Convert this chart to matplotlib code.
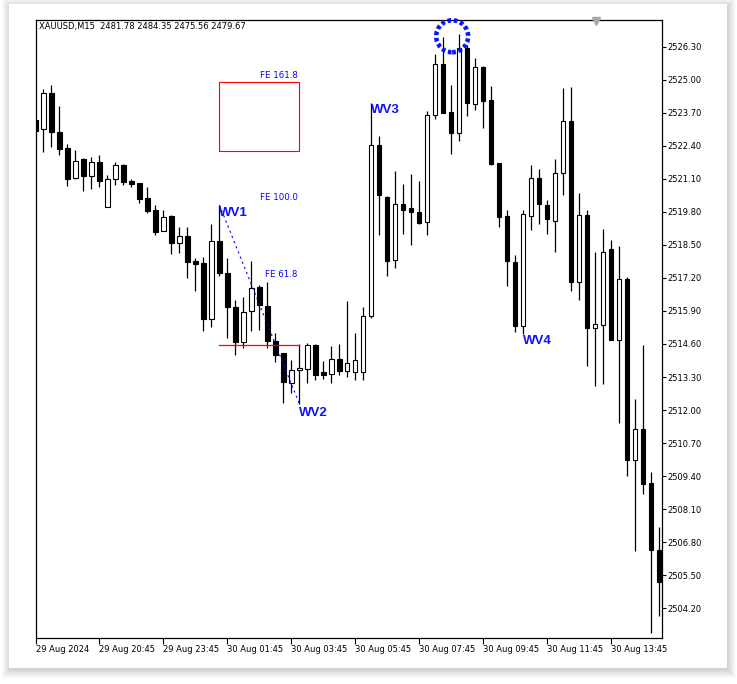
import matplotlib
matplotlib.use("Agg")
import matplotlib.pyplot as plt
import matplotlib.patches as patches
import numpy as np

W, H = 737, 684

header = "XAUUSD,M15  2481.78 2484.35 2475.56 2479.67"

opens = [2523.41, 2523.05, 2524.46, 2522.93, 2522.30, 2521.14, 2521.87, 2521.22, 2521.76, 2519.98,
         2521.08, 2521.64, 2521.01, 2520.93, 2520.35, 2519.88, 2519.03, 2519.64, 2518.56, 2518.85,
         2517.87, 2517.79, 2515.59, 2518.64, 2517.41, 2516.04, 2514.69, 2515.89, 2516.83, 2516.09,
         2514.70, 2514.26, 2513.06, 2513.57, 2513.61, 2514.55, 2513.49, 2513.40, 2514.00, 2513.55,
         2513.50, 2513.50, 2515.70, 2522.43, 2520.39, 2517.90, 2520.11, 2519.95, 2519.80, 2519.39,
         2523.60, 2525.62, 2523.72, 2522.89, 2526.25, 2524.06, 2525.49, 2524.20, 2521.72, 2519.63,
         2517.82, 2515.32, 2519.65, 2521.12, 2520.06, 2519.45, 2521.31, 2523.36, 2517.05, 2519.66,
         2515.22, 2515.36, 2518.33, 2514.77, 2517.16, 2510.02, 2511.24, 2509.14, 2506.49]
highs = [2523.41, 2524.63, 2524.79, 2523.96, 2522.47, 2522.23, 2521.91, 2521.96, 2522.04, 2521.24,
         2521.76, 2521.68, 2521.09, 2520.93, 2520.78, 2520.06, 2519.88, 2519.67, 2519.20, 2519.20,
         2517.97, 2518.01, 2519.33, 2520.07, 2518.00, 2516.33, 2516.44, 2517.86, 2516.92, 2517.03,
         2515.02, 2514.26, 2513.97, 2514.59, 2514.63, 2514.59, 2513.92, 2514.54, 2514.59, 2516.30,
         2515.03, 2516.06, 2524.07, 2522.78, 2520.41, 2521.41, 2520.90, 2521.29, 2521.01, 2523.77,
         2526.00, 2526.67, 2524.78, 2526.80, 2526.37, 2525.86, 2525.53, 2524.75, 2521.72, 2519.86,
         2518.10, 2519.86, 2521.63, 2521.48, 2520.25, 2521.87, 2524.68, 2524.71, 2520.54, 2519.86,
         2518.22, 2519.13, 2518.69, 2518.45, 2517.22, 2512.44, 2514.56, 2509.56, 2507.38]
lows = [2522.99, 2522.17, 2522.36, 2522.05, 2520.83, 2521.09, 2520.63, 2520.71, 2520.79, 2519.98,
        2520.87, 2520.87, 2520.79, 2520.13, 2519.77, 2518.87, 2519.03, 2518.13, 2518.19, 2517.21,
        2516.70, 2515.12, 2515.28, 2517.26, 2514.82, 2514.18, 2514.45, 2515.11, 2515.15, 2514.43,
        2513.90, 2512.29, 2512.66, 2512.24, 2513.08, 2513.19, 2513.21, 2513.06, 2513.38, 2513.30,
        2513.19, 2513.19, 2515.62, 2518.87, 2517.29, 2517.61, 2518.93, 2518.50, 2519.33, 2518.87,
        2523.47, 2523.70, 2522.07, 2522.60, 2523.59, 2523.80, 2523.11, 2521.66, 2519.20, 2516.87,
        2515.08, 2515.01, 2519.09, 2519.34, 2518.91, 2518.23, 2520.46, 2516.70, 2516.35, 2513.75,
        2512.94, 2513.04, 2514.77, 2511.49, 2509.42, 2506.44, 2508.71, 2503.21, 2503.91]
closes = [2522.99, 2524.46, 2522.93, 2522.28, 2521.10, 2521.80, 2521.22, 2521.76, 2521.03, 2521.09,
          2521.63, 2520.99, 2520.90, 2520.32, 2519.85, 2518.99, 2519.60, 2518.59, 2518.85, 2517.84,
          2517.76, 2515.60, 2518.67, 2517.39, 2516.07, 2514.69, 2515.85, 2516.79, 2516.12, 2514.70,
          2514.18, 2513.12, 2513.57, 2513.66, 2514.55, 2513.38, 2513.37, 2514.00, 2513.55, 2513.84,
          2513.97, 2515.70, 2522.42, 2520.48, 2517.88, 2520.10, 2519.89, 2519.81, 2519.36, 2523.61,
          2525.61, 2523.70, 2522.92, 2526.24, 2524.10, 2525.49, 2524.17, 2521.68, 2519.60, 2517.88,
          2515.32, 2519.70, 2521.12, 2520.09, 2519.50, 2521.32, 2523.36, 2517.05, 2519.66, 2515.22,
          2515.38, 2518.24, 2514.77, 2517.16, 2510.05, 2511.24, 2509.10, 2506.51, 2505.24]

time_labels = ["29 Aug 2024", "29 Aug 20:45", "29 Aug 23:45", "30 Aug 01:45", "30 Aug 03:45",
               "30 Aug 05:45", "30 Aug 07:45", "30 Aug 09:45", "30 Aug 11:45", "30 Aug 13:45"]
time_label_bars = [0, 8, 16, 24, 32, 40, 48, 56, 64, 72]
price_ticks = [2504.20, 2505.50, 2506.80, 2508.10, 2509.40, 2510.70, 2512.00, 2513.30, 2514.60,
               2515.90, 2517.20, 2518.50, 2519.80, 2521.10, 2522.40, 2523.70, 2525.00, 2526.30]

# wave marks: name, bar, price of label top
wave_names = ["WV1", "WV2", "WV3", "WV4"]
wave_bars = [23, 33, 42, 61]
wave_prices = [2519.98, 2512.13, 2524.03, 2514.94]

# fibo expansion labels (right aligned)
fe_names = ["FE 161.8", "FE 100.0", "FE 61.8"]
fe_prices = [2525.15, 2520.35, 2517.33]
fe_rect = (23, 33, 2522.18, 2524.90)   # bar0, bar1, low, high
fe_line = (23, 33, 2514.57)
wave_line = ([23, 33], [2520.07, 2512.24])
peak_circle = (52.1, 2526.71)

fig = plt.figure(figsize=(W / 100, H / 100), dpi=100)
fig.patch.set_facecolor("white")

def fx(px):
    return px / W

def fy(py):
    return 1 - py / H

# card shadow
for k in range(1, 10):
    fig.patches.append(patches.Rectangle((fx(9 - k + 2), fy(668 + k + 1)),
                                         fx(718 + 2 * k - 2), (664 + 2 * k - 2) / H,
                                         transform=fig.transFigure, facecolor="black",
                                         edgecolor="none", alpha=0.018, zorder=-20 + k))
fig.patches.append(patches.Rectangle((fx(9), fy(668)), fx(718), 664 / H,
                                     transform=fig.transFigure, facecolor="white",
                                     edgecolor="none", zorder=-5))

ax = fig.add_axes([fx(35.5), fy(638), fx(626), 618.5 / H])
ax.set_facecolor("white")

x = np.arange(len(opens))
o = np.array(opens)
c = np.array(closes)
body_lo = np.minimum(o, c)
body_h = np.maximum(np.abs(c - o), 0.02)
face = ["white" if cc >= oo else "black" for oo, cc in zip(o, c)]

ax.vlines(x, lows, highs, color="black", lw=0.9, zorder=2)
ax.bar(x, body_h, bottom=body_lo, width=0.52, color=face, edgecolor="black",
       linewidth=0.8, zorder=3)

ax.set_xlim(0, 78.27)
ax.set_ylim(2503.03, 2527.37)

ax.yaxis.tick_right()
ax.set_yticks(price_ticks)
ax.set_yticklabels([f"{p:.2f}" for p in price_ticks])
ax.set_xticks(time_label_bars)
ax.set_xticklabels(time_labels, ha="left")
ax.tick_params(axis="y", direction="out", length=3, width=0.8, pad=1.5, labelsize=6)
ax.tick_params(axis="x", direction="out", length=4, width=0.8, pad=0.8, labelsize=6)
for s in ax.spines.values():
    s.set_linewidth(0.9)
    s.set_color("black")

ax.text(0.006, 0.9887, header, transform=ax.transAxes, fontsize=6, va="center", ha="left")

# fibo objects
b0, b1, lo, hi = fe_rect
ax.add_patch(patches.Rectangle((b0, lo), b1 - b0, hi - lo, fill=False, edgecolor="#ff0000",
                               lw=0.8, zorder=4))
ax.plot([fe_line[0], fe_line[1]], [fe_line[2], fe_line[2]], color="#ff0000", lw=0.9, zorder=4)
for name, p in zip(fe_names, fe_prices):
    ax.text(32.8, p, name, color="blue", fontsize=6.2, ha="right", va="center", zorder=5)

ax.plot(wave_line[0], wave_line[1], color="blue", lw=0.8, linestyle=(0, (2, 3)), zorder=5)

for name, b, p in zip(wave_names, wave_bars, wave_prices):
    ax.text(b, p, name, color="#1010ff", fontsize=9.5, fontweight="bold",
            family="Liberation Sans", ha="left", va="top", zorder=6)

ax.add_patch(patches.Ellipse(peak_circle, 4.0, 1.26, fill=False, edgecolor="#0a14ff",
                             lw=3.3, linestyle=(0, (0.8, 0.6)), zorder=6, clip_on=False))

# chart shift marker
ax.plot([0.895], [0.997], marker="v", color="#a8a8a8", markersize=6,
        transform=ax.transAxes, clip_on=False, zorder=7)

fig.savefig("out.png", dpi=100)
